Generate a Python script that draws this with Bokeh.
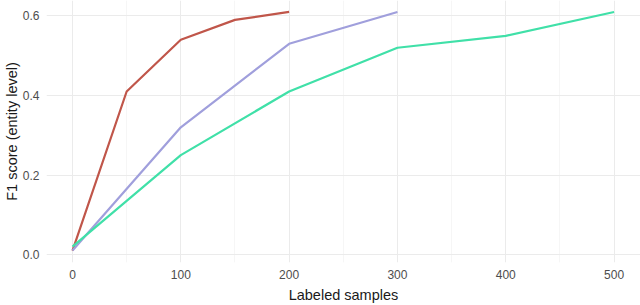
from bokeh.plotting import figure
from bokeh.models import Range1d, FixedTicker, CustomJSTickFormatter
from bokeh.embed import file_html
from bokeh.resources import INLINE

# Data
red_x = [0, 50, 100, 150, 200]
red_y = [0.01, 0.41, 0.54, 0.59, 0.61]
purple_x = [0, 100, 200, 300]
purple_y = [0.01, 0.32, 0.53, 0.61]
green_x = [0, 100, 200, 300, 400, 500]
green_y = [0.02, 0.25, 0.41, 0.52, 0.55, 0.61]

x_ticks = [0, 100, 200, 300, 400, 500]
x_minor = [50, 150, 250, 350, 450]
y_ticks = [0.0, 0.2, 0.4, 0.6]

FONT = "Liberation Sans"

p = figure(width=640, height=305, output_backend="svg", toolbar_location=None,
           x_range=Range1d(-24, 524.4), y_range=Range1d(-0.02, 0.6388),
           min_border_left=10, min_border_right=0, min_border_top=0, min_border_bottom=10)
p.outline_line_color = None
p.background_fill_color = "white"
p.border_fill_color = "white"

for ax in (p.xaxis[0], p.yaxis[0]):
    ax.axis_line_color = None
    ax.major_tick_line_color = None
    ax.minor_tick_line_color = None
    ax.major_tick_out = 0
    ax.major_tick_in = 0
    ax.minor_tick_out = 0
    ax.minor_tick_in = 0
    ax.major_label_text_color = "#4D4D4D"
    ax.major_label_text_font = FONT
    ax.major_label_text_font_size = "12px"
    ax.axis_label_text_font = FONT
    ax.axis_label_text_font_size = "14.5px"
    ax.axis_label_text_font_style = "normal"
    ax.axis_label_text_color = "#1A1A1A"

p.xaxis[0].ticker = FixedTicker(ticks=x_ticks, minor_ticks=x_minor)
p.yaxis[0].ticker = FixedTicker(ticks=y_ticks)
p.yaxis[0].formatter = CustomJSTickFormatter(code="return tick.toFixed(1);")
p.xaxis[0].axis_label = "Labeled samples"
p.yaxis[0].axis_label = "F1 score (entity level)"
p.xaxis[0].major_label_standoff = 7
p.xaxis[0].axis_label_standoff = 5
p.yaxis[0].major_label_standoff = 7
p.yaxis[0].axis_label_standoff = 0

p.xgrid.grid_line_color = "#EBEBEB"
p.xgrid.grid_line_width = 1
p.xgrid.minor_grid_line_color = "#F2F2F2"
p.xgrid.minor_grid_line_width = 0.7
p.ygrid.grid_line_color = "#EBEBEB"
p.ygrid.grid_line_width = 1

p.line(red_x, red_y, line_color="#C0564A", line_width=2.2)
p.line(purple_x, purple_y, line_color="#A09FDC", line_width=2.2)
p.line(green_x, green_y, line_color="#40E0A8", line_width=2.2)

open("out.html", "w").write(file_html(p, INLINE))
